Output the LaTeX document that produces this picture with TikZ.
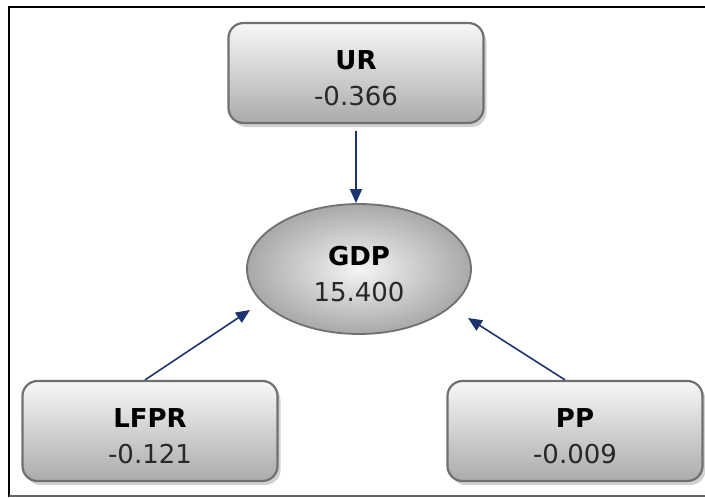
\documentclass[tikz,border=0pt]{standalone}
\usepackage{fontspec}
\setmainfont{DejaVu Sans}
\usetikzlibrary{arrows.meta,shadows,shapes.geometric}
\definecolor{edgegray}{RGB}{112,112,112}
\definecolor{navy}{RGB}{28,52,112}
\definecolor{valtext}{RGB}{40,40,40}
\newcommand{\titlestrut}{\rule{0pt}{30pt}}
\tikzset{
  varbox/.style={rectangle, rounded corners=15pt, draw=edgegray, line width=2.2pt,
    top color=white!97!black, bottom color=black!33,
    minimum width=255pt, minimum height=100pt, align=center,
    font=\fontsize{26}{36}\selectfont,
    drop shadow={shadow xshift=3pt, shadow yshift=-4pt, opacity=0.3, fill=black!60}},
  latent/.style={ellipse, draw=edgegray, line width=1.8pt,
    inner color=black!4, outer color=black!34,
    minimum width=224pt, minimum height=130pt, align=center,
    font=\fontsize{26}{36}\selectfont},
  conn/.style={draw=navy, line width=1.6pt, -{Triangle[length=14pt,width=12pt]}}
}
\begin{document}
\begin{tikzpicture}[x=1pt,y=-1pt]
\useasboundingbox (0,0) rectangle (705,498);
% frame
\draw[line width=2pt] (706,7) -- (9,7) -- (9,497);
\draw[black!60, line width=1.5pt] (9,496) -- (706,496);
% nodes
\node[varbox] (UR) at (356,73) {\titlestrut\textbf{UR}\\\textcolor{valtext}{-0.366}};
\node[latent] (GDP) at (359,269) {\titlestrut\textbf{GDP}\\\textcolor{valtext}{15.400}};
\node[varbox] (LFPR) at (150,431) {\titlestrut\textbf{LFPR}\\\textcolor{valtext}{-0.121}};
\node[varbox] (PP) at (575,431) {\titlestrut\textbf{PP}\\\textcolor{valtext}{-0.009}};
% arrow tips
\coordinate (tl) at (250,310);
\coordinate (tr) at (468,318);
% connectors
\draw[conn, shorten <=7pt] (UR.south) -- (UR.south |- GDP.north);
\draw[conn] ([xshift=-5pt]LFPR.north) -- (tl);
\draw[conn] ([xshift=-10pt]PP.north) -- (tr);
\end{tikzpicture}
\end{document}
